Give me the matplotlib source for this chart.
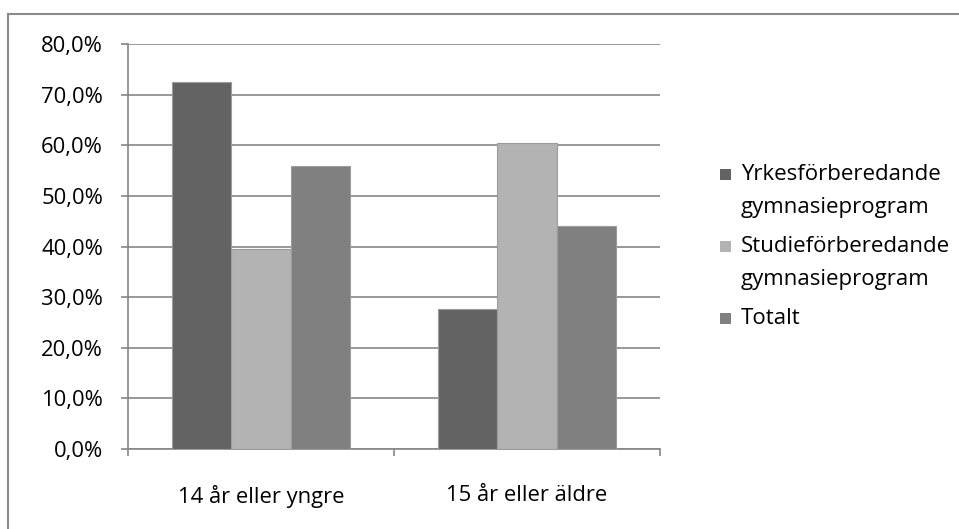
import matplotlib
matplotlib.use("Agg")
import matplotlib.pyplot as plt
import numpy as np
from matplotlib.patches import Rectangle
from matplotlib.lines import Line2D
from matplotlib.ticker import FuncFormatter, MultipleLocator

categories = ["14 år eller yngre", "15 år eller äldre"]
series_names = ["Yrkesförberedande\ngymnasieprogram",
                "Studieförberedande\ngymnasieprogram",
                "Totalt"]
yrkes = [72.4, 27.6]
studie = [39.5, 60.5]
totalt = [56.0, 44.0]
series_values = [yrkes, studie, totalt]
colors = ["#636363", "#b3b3b3", "#808080"]

plt.rcParams['font.family'] = ['Open Sans', 'DejaVu Sans']
FS = 15.8

W, H = 959, 529
fig = plt.figure(figsize=(W / 100, H / 100), dpi=100)
ax = fig.add_axes([128 / W, (H - 449) / H, 532 / W, 405 / H])

x = np.arange(len(categories))
bw = 0.222
for i, (vals, c) in enumerate(zip(series_values, colors)):
    ax.bar(x + (i - 1) * bw, vals, width=bw, color=c, edgecolor="#9c9c9c",
           linewidth=0.8, zorder=3)

ax.set_xlim(-0.5, len(categories) - 0.5)
ax.set_ylim(0, 80)
ax.yaxis.set_major_locator(MultipleLocator(10))
ax.yaxis.set_major_formatter(FuncFormatter(lambda v, p: f"{v:.1f}%".replace(".", ",")))
ax.grid(axis='y', color="#868686", linewidth=1.2, zorder=0)
ax.set_axisbelow(True)

ax.set_xticks(x)
ax.set_xticklabels(categories)
ax.set_xticks(np.arange(-0.5, len(categories)), minor=True)
ax.tick_params(axis='x', which='major', length=0, pad=26, labelsize=FS, colors='black')
ax.tick_params(axis='x', which='minor', length=5, width=1.2, color="#868686", direction='out')
ax.tick_params(axis='y', length=5, width=1.2, color="#868686", labelsize=FS, pad=13)

for s in ['top', 'right']:
    ax.spines[s].set_visible(False)
for s in ['left', 'bottom']:
    ax.spines[s].set_color("#868686")
    ax.spines[s].set_linewidth(1.2)

# legend (manual, Excel-style with square aligned to first line)
leg_x_sq = 720 / W
leg_x_txt = 741 / W
line_tops = [174, 246, 318]
sq = 11
for name, c, yc in zip(series_names, colors, line_tops):
    fig.add_artist(Rectangle((leg_x_sq, (H - yc - sq / 2) / H), sq / W, sq / H,
                             facecolor=c, edgecolor='none', transform=fig.transFigure))
    nlines = name.count("\n")
    fig.text(leg_x_txt, (H - yc - 16.5 * nlines) / H, name, ha='left', va='center',
             fontsize=16, linespacing=1.75, transform=fig.transFigure)

# outer chart frame (only left and top visible)
fig.add_artist(Line2D([7.5 / W, 7.5 / W], [0, (H - 14) / H], color="#8c8c8c",
                      linewidth=1.5, transform=fig.transFigure))
fig.add_artist(Line2D([7.5 / W, 1], [(H - 14) / H, (H - 14) / H], color="#8c8c8c",
                      linewidth=1.5, transform=fig.transFigure))

fig.savefig("out.png", dpi=100)
